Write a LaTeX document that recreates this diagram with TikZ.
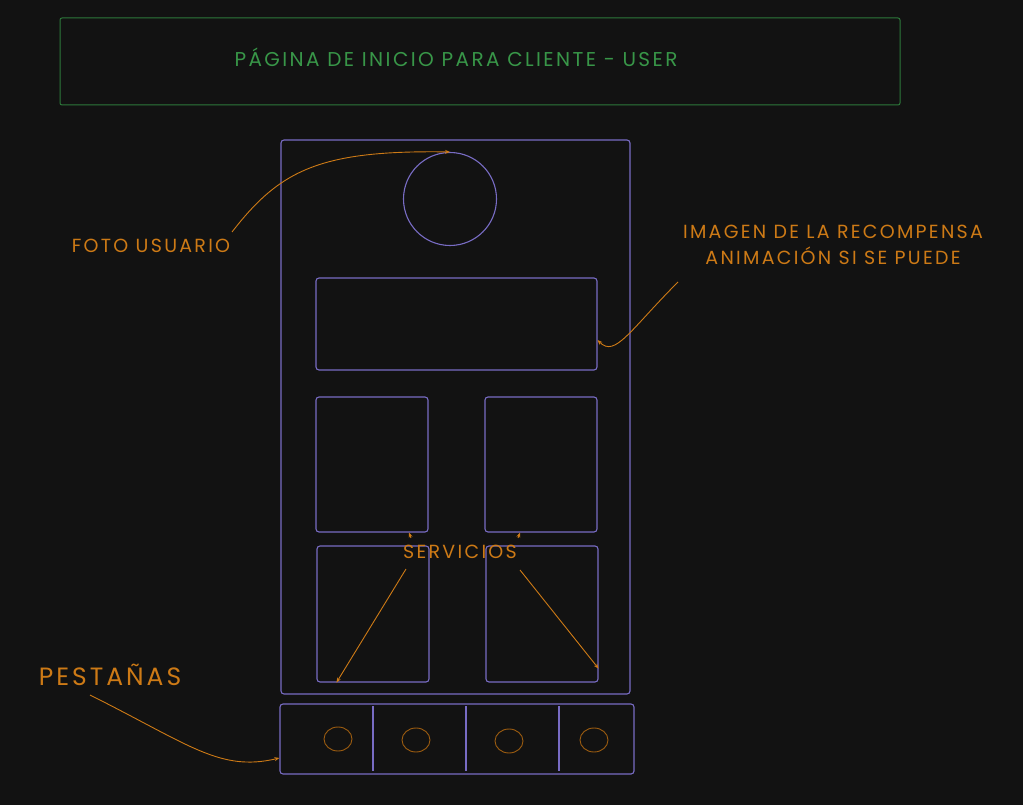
\documentclass[tikz,border=0pt]{standalone}
\usepackage{fontspec}
\setmainfont{Poppins}[LetterSpace=12]
\usetikzlibrary{arrows.meta,positioning,shapes.geometric,calc}
\definecolor{bgdark}{RGB}{18,18,18}
\definecolor{uiviolet}{RGB}{120,108,196}
\definecolor{notegreen}{RGB}{56,150,72}
\definecolor{noteorange}{RGB}{205,122,22}
\begin{document}
\begin{tikzpicture}[x=1pt, y=-1pt,
  ui/.style={draw=uiviolet, line width=1.1pt, rounded corners=3pt,
             inner sep=0pt},
  title/.style={draw=notegreen!80!black, line width=1pt, rounded corners=2pt,
                minimum width=840pt, minimum height=87pt, inner sep=0pt},
  note/.style={text=noteorange, font=\fontsize{19}{26}\selectfont, align=center},
  big/.style={text=noteorange, font=\fontsize{25}{30}\selectfont},
  arr/.style={-{Stealth[length=5pt, width=4pt]}, noteorange, line width=0.9pt},
  tabdot/.style={draw=noteorange!75!black, line width=0.9pt, ellipse,
                 minimum width=28pt, minimum height=24pt, inner sep=0pt}]
\fill[bgdark] (0,0) rectangle (1023,805);
\useasboundingbox (0,0) rectangle (1023,805);
\node[title] (header) at (480,61.5) {};
\node[text=notegreen, font=\fontsize{20}{24}\selectfont] (headtext) at (456,57)
  {PÁGINA DE INICIO PARA CLIENTE - USER};
\node[ui, minimum width=349pt, minimum height=554pt] (phone) at (455.5,417) {};
\node[draw=uiviolet, line width=1.1pt, circle, minimum size=93pt,
  inner sep=0pt] (avatar) at (450,199) {};
\node[ui, minimum width=281pt, minimum height=92pt] (banner) at (456.5,324) {};
\node[ui, minimum width=112pt, minimum height=135pt] (srvA) at (372,464.5) {};
\node[ui, minimum width=112pt, minimum height=135pt] (srvB) at (541,464.5) {};
\node[ui, minimum width=112pt, minimum height=136pt] (srvC) at (373,614) {};
\node[ui, minimum width=112pt, minimum height=136pt] (srvD) at (542,614) {};
\node[ui, minimum width=354pt, minimum height=70pt] (tabs) at (457,739) {};
\draw[uiviolet, line width=1.1pt] (373,706) -- (373,771);
\draw[uiviolet, line width=1.1pt] (466,706) -- (466,771);
\draw[uiviolet, line width=1.1pt] (559,706) -- (559,771);
\node[tabdot] (tab1) at (338,739) {};
\node[tabdot] (tab2) at (416,740) {};
\node[tabdot] (tab3) at (509,741) {};
\node[tabdot] (tab4) at (594,740) {};
\node[note] (fotolbl) at (151,246) {FOTO USUARIO};
\node[note] (rewardlbl) at (833,245) {IMAGEN DE LA RECOMPENSA\\ANIMACIÓN SI SE PUEDE};
\node[note] (srvlbl) at (460,552) {SERVICIOS};
\node[big] (tabslbl) at (110,675) {PESTAÑAS};
\draw[arr] (232,232) .. controls (280,170) and (320,150) .. (avatar.north);
\draw[arr] (678,282) .. controls (630,330) and (615,358) .. (banner.east |- 0,340);
\draw[arr] (406,569) -- ($(srvC.south west)+(20,0)$);
\draw[arr] (520,570) -- ($(srvD.south east)+(0,-14)$);
\draw[arr] (411,538) -- ($(srvA.south)+(37,0)$);
\draw[arr] (518,538) -- ($(srvB.south)+(-21,0)$);
\draw[arr] (90,695) .. controls (190,745) and (220,772) .. (tabs.west |- 0,758);
\end{tikzpicture}
\end{document}
